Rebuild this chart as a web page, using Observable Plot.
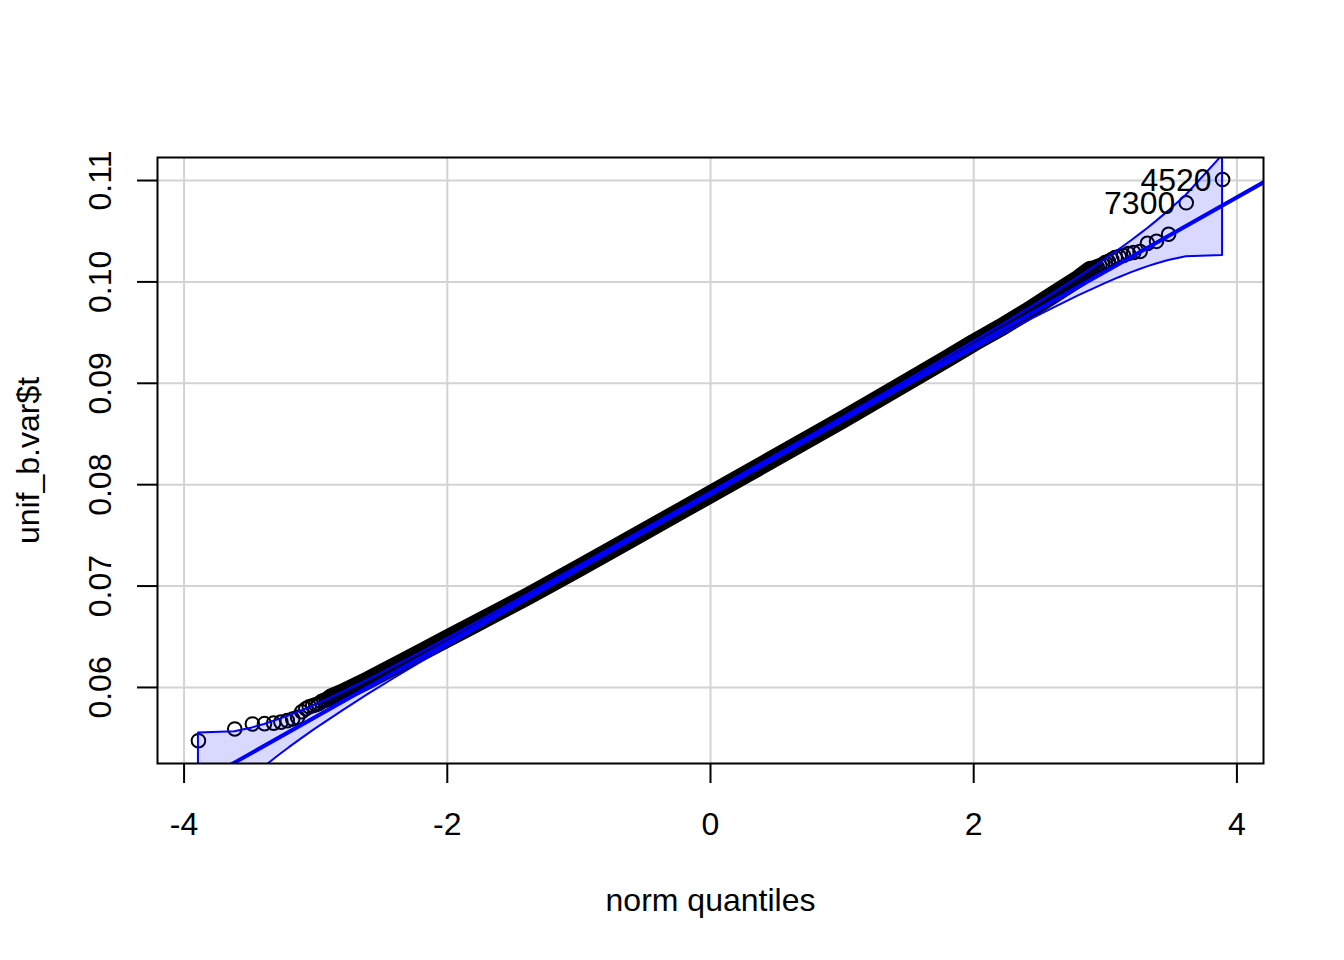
<!DOCTYPE html>
<html>
<head>
<meta charset="utf-8">
<script src="https://cdn.jsdelivr.net/npm/d3@7"></script>
<script src="https://cdn.jsdelivr.net/npm/@observablehq/plot@0.6"></script>
<style>
  html, body { margin: 0; padding: 0; background: #ffffff; }
  #chart { width: 1344px; height: 960px; }
</style>
</head>
<body>
<div id="chart"></div>
<script>
// ---- axes / ticks ----
const xDomain = [-4.202, 4.202];
const yDomain = [0.0525, 0.11227];
const xTicks = [-4, -2, 0, 2, 4];
const yTicks = [0.06, 0.07, 0.08, 0.09, 0.10, 0.11];
const xLabel = "norm quantiles";
const yLabel = "unif_b.var$t";

// ---- fitted reference line (intercept, slope) ----
const fitIntercept = 0.07906;
const fitSlope = 0.00732;

// ---- sparse tail points: theoretical quantile / sample value ----
const lowerTailQ = [-3.891, -3.615, -3.481, -3.389, -3.320, -3.264, -3.216, -3.175, -3.138, -3.106,
                    -3.075, -3.049, -3.023, -3.000, -2.978, -2.958, -2.938, -2.920, -2.902, -2.886];
const lowerTailV = [0.05475, 0.05591, 0.05640, 0.05643, 0.05648, 0.05658, 0.05673, 0.05689, 0.05705, 0.05760,
                    0.05790, 0.05810, 0.05820, 0.05830, 0.05840, 0.05860, 0.05870, 0.05880, 0.05890, 0.05900];
const upperTailQ = [3.891, 3.615, 3.481, 3.389, 3.320, 3.264, 3.216, 3.175, 3.138, 3.106,
                    3.075, 3.049, 3.023, 3.000, 2.978, 2.958, 2.938, 2.920, 2.902, 2.886];
const upperTailV = [0.1101, 0.1078, 0.1047, 0.1040, 0.1038, 0.1030, 0.1029, 0.1028, 0.1026, 0.1025,
                    0.1024, 0.1022, 0.1020, 0.1019, 0.1017, 0.1016, 0.1015, 0.1014, 0.1013, 0.1012];

// ---- dense central band of points (thousands of overlapping circles) ----
const bandQ = [-2.886, -2.8, -2.6, -2.4, -2.2, -2.0, -1.8, -1.6, -1.4, -1.2, -1.0, -0.6, -0.2,
               0.2, 0.6, 1.0, 1.4, 1.8, 2.0, 2.2, 2.4, 2.6, 2.8, 2.886];
const bandV = [0.05900, 0.05946, 0.06073, 0.06209, 0.06346, 0.06482, 0.06618, 0.06755, 0.06891, 0.07033, 0.07177, 0.07467, 0.07760,
               0.08052, 0.08345, 0.08639, 0.08941, 0.09244, 0.09400, 0.09546, 0.09703, 0.09869, 0.10036, 0.10120];

// ---- confidence envelope ----
const envQ = [-3.891, -3.615, -3.481, -3.389, -3.320, -3.264, -3.2, -3.1, -3.0, -2.8, -2.6, -2.4, -2.2, -2.0, -1.5, -1.0, 0,
              1.0, 1.5, 2.0, 2.2, 2.4, 2.6, 2.8, 3.0, 3.1, 3.2, 3.264, 3.320, 3.389, 3.481, 3.615, 3.891];
const envLower = [0.04565, 0.04957, 0.05115, 0.05215, 0.05287, 0.05343, 0.05406, 0.05500, 0.05591, 0.05765, 0.05931, 0.06091, 0.06248, 0.06402, 0.06780, 0.07152, 0.07888,
                  0.08616, 0.08976, 0.09330, 0.09469, 0.09605, 0.09737, 0.09864, 0.09983, 0.10039, 0.10091, 0.10122, 0.10148, 0.10177, 0.10211, 0.10249, 0.10261];
const envUpper = [0.05551, 0.05563, 0.05601, 0.05635, 0.05665, 0.05690, 0.05721, 0.05773, 0.05829, 0.05948, 0.06075, 0.06207, 0.06343, 0.06482, 0.06836, 0.07196, 0.07924,
                  0.08660, 0.09032, 0.09410, 0.09564, 0.09721, 0.09881, 0.10047, 0.10221, 0.10312, 0.10406, 0.10469, 0.10525, 0.10597, 0.10698, 0.10855, 0.11247];

// ---- labelled outliers ----
const outlierIds = ["4520", "7300"];
const outlierQ = [3.891, 3.615];
const outlierV = [0.1101, 0.1078];

// ---- build tables ----
const tails = lowerTailQ.map((q, i) => ({q, v: lowerTailV[i]}))
  .concat(upperTailQ.map((q, i) => ({q, v: upperTailV[i]})));
const band = bandQ.map((q, i) => ({q, v: bandV[i]}));
const env = envQ.map((q, i) => ({q, lower: envLower[i], upper: envUpper[i]}));
const fit = xDomain.map(q => ({q, v: fitIntercept + fitSlope * q}));
const outliers = outlierIds.map((id, i) => ({id, q: outlierQ[i], v: outlierV[i]}));

const FONT = "'Liberation Sans', Arial, Helvetica, sans-serif";

const chart = Plot.plot({
  width: 1344,
  height: 960,
  marginLeft: 157,
  marginRight: 81,
  marginTop: 157,
  marginBottom: 197,
  style: {fontFamily: FONT, fontSize: "32px", background: "#ffffff", color: "#000000"},
  x: {domain: xDomain, axis: null},
  y: {domain: yDomain, axis: null},
  marks: [
    Plot.ruleX(xTicks, {x: d => d, stroke: "#d3d3d3", strokeWidth: 2}),
    Plot.ruleY(yTicks, {y: d => d, stroke: "#d3d3d3", strokeWidth: 2}),
    Plot.line(band, {x: "q", y: "v", stroke: "black", strokeWidth: 18, strokeLinecap: "round", strokeLinejoin: "round"}),
    Plot.dot(tails, {x: "q", y: "v", r: 6.8, stroke: "black", strokeWidth: 2, fill: "none"}),
    Plot.line(fit, {x: "q", y: "v", stroke: "blue", strokeWidth: 4, clip: true}),
    Plot.areaY(env, {x: "q", y1: "lower", y2: "upper", fill: "blue", fillOpacity: 0.15, stroke: "blue", strokeWidth: 2, clip: true}),
    Plot.text(outliers, {x: "q", y: "v", text: "id", textAnchor: "end", lineAnchor: "middle", dx: -11, dy: 1, fontSize: 32, fill: "black"}),
    Plot.frame({stroke: "black", strokeWidth: 2}),
    Plot.axisX({ticks: xTicks, tickSize: 20, tickPadding: 29, tickFormat: d => String(d), fontSize: 32, label: null, strokeWidth: 2, stroke: "black", fill: "black"}),
    Plot.axisY({ticks: yTicks, tickSize: 20, tickFormat: () => "", label: null, strokeWidth: 2, stroke: "black"}),
    Plot.text(yTicks, {y: d => d, frameAnchor: "left", dx: -57, rotate: -90, text: d => d.toFixed(2), fontSize: 32, textAnchor: "middle", lineAnchor: "middle", fill: "black"}),
    Plot.text([xLabel], {frameAnchor: "bottom", dy: 137, text: d => d, fontSize: 32, lineAnchor: "middle", fill: "black"}),
    Plot.text([yLabel], {frameAnchor: "left", dx: -129, rotate: -90, text: d => d, fontSize: 32, textAnchor: "middle", lineAnchor: "middle", fill: "black"})
  ]
});
document.getElementById("chart").appendChild(chart);
</script>
</body>
</html>
